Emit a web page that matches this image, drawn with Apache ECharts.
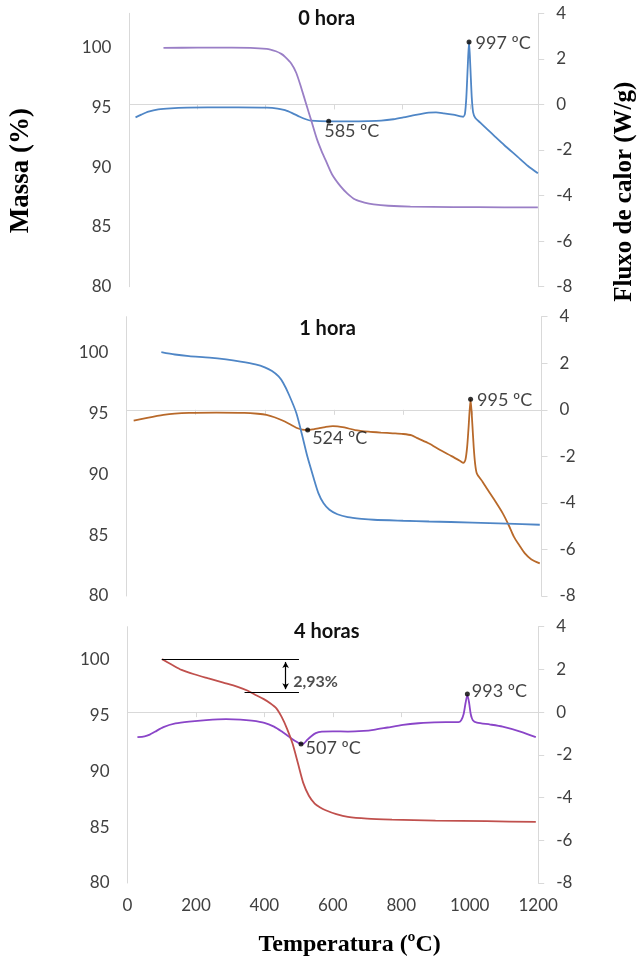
<!DOCTYPE html>
<html>
<head>
<meta charset="utf-8">
<script src="https://cdn.jsdelivr.net/npm/echarts@6/dist/echarts.min.js"></script>
<style>
html,body{margin:0;padding:0;background:#fff;}
#chart{width:639px;height:963px;}
</style>
</head>
<body>
<div id="chart"></div>
<script>
// ---- Data (temperature °C, value) ----
const panelTitles = ['0 hora', '1 hora', '4 horas'];
const xTicks = [0, 200, 400, 600, 800, 1000, 1200];

// 0 hora
const massT0 = [[100,100],[200,100.02],[300,100.02],[403,99.92],[430,99.72],[446,99.5],[457,99.25],[475,98.7],[490,97.9],[505,96.6],[520,95.2],[533,94.0],[550,92.4],[565,91.3],[576,90.6],[595,89.4],[620,88.4],[640,87.8],[663,87.3],[690,87.05],[717,86.9],[760,86.78],[825,86.7],[950,86.67],[1100,86.65],[1199,86.64]];
const heatT0 = [[18,-0.57],[35,-0.45],[56,-0.32],[85,-0.22],[121,-0.17],[170,-0.14],[229,-0.13],[320,-0.13],[403,-0.14],[435,-0.18],[457,-0.25],[478,-0.38],[500,-0.54],[518,-0.65],[533,-0.71],[587,-0.74],[650,-0.74],[700,-0.73],[739,-0.71],[775,-0.65],[804,-0.57],[840,-0.46],[879,-0.36],[900,-0.35],[923,-0.39],[950,-0.45],[972,-0.52],[980,-0.54],[985,-0.4],[989,0.3],[993,1.6],[997,2.74],[1001,1.6],[1005,0.3],[1009,-0.35],[1015,-0.58],[1030,-0.8],[1050,-1.08],[1074,-1.42],[1100,-1.78],[1139,-2.29],[1170,-2.7],[1199,-3.02]];
const peaksT0 = [[585,-0.74,'585 ºC'],[997,2.74,'997 ºC']];

// 1 hora
const massT1 = [[101,100],[140,99.8],[181,99.67],[240,99.55],[288,99.4],[330,99.22],[373,98.99],[400,98.75],[421,98.44],[440,98.0],[453,97.48],[470,96.5],[491,95.02],[507,93.3],[523,91.45],[540,89.8],[555,88.44],[570,87.6],[587,87.07],[610,86.7],[640,86.47],[680,86.33],[715,86.25],[800,86.17],[875,86.11],[1000,86.02],[1100,85.93],[1195,85.84]];
const heatT1 = [[21,-0.47],[60,-0.35],[107,-0.22],[140,-0.16],[181,-0.13],[260,-0.12],[341,-0.13],[380,-0.17],[405,-0.22],[428,-0.32],[448,-0.44],[470,-0.6],[491,-0.77],[508,-0.85],[524,-0.87],[540,-0.84],[555,-0.8],[575,-0.74],[597,-0.7],[630,-0.76],[661,-0.87],[700,-0.94],[736,-0.98],[770,-1.01],[800,-1.04],[825,-1.1],[843,-1.23],[875,-1.45],[907,-1.73],[940,-1.99],[965,-2.2],[974,-2.28],[980,-2.15],[985,-1.6],[989,-0.8],[995,0.45],[1000,-0.6],[1004,-1.6],[1008,-2.3],[1013,-2.73],[1030,-3.1],[1045,-3.45],[1065,-3.9],[1088,-4.45],[1105,-4.95],[1120,-5.45],[1137,-5.85],[1152,-6.17],[1170,-6.42],[1195,-6.6]];
const peaksT1 = [[524,-0.87,'524 ºC'],[995,0.45,'995 ºC']];

// 4 horas
const massT4 = [[101,100],[130,99.5],[158,99.04],[195,98.65],[234,98.3],[280,97.9],[320,97.55],[350,97.2],[374,96.8],[397,96.45],[417,96.06],[435,95.6],[450,94.86],[466,93.8],[482,92.48],[498,90.7],[514,88.9],[530,87.8],[547,87.1],[563,86.75],[579,86.5],[610,86.15],[644,85.9],[700,85.75],[773,85.67],[900,85.58],[1050,85.52],[1193,85.46]];
const heatT4 = [[29,-1.17],[50,-1.13],[65,-1.05],[80,-0.92],[105,-0.7],[140,-0.53],[180,-0.44],[230,-0.37],[288,-0.33],[330,-0.35],[363,-0.4],[400,-0.5],[428,-0.68],[450,-0.9],[471,-1.14],[490,-1.35],[507,-1.49],[515,-1.47],[525,-1.3],[536,-1.14],[550,-0.98],[568,-0.91],[600,-0.9],[644,-0.91],[690,-0.88],[719,-0.83],[760,-0.72],[805,-0.6],[850,-0.52],[881,-0.49],[930,-0.47],[967,-0.47],[975,-0.38],[982,-0.1],[988,0.45],[993,0.8],[998,0.45],[1003,-0.1],[1009,-0.38],[1021,-0.49],[1060,-0.58],[1096,-0.68],[1150,-0.92],[1193,-1.17]];
const peaksT4 = [[507,-1.49,'507 ºC'],[993,0.85,'993 ºC']];

// Mass-loss bracket (4 horas)
const lossStart = 100, lossEnd = 97.07, lossLabel = '2,93%';

// ---- Chart ----
const chart = echarts.init(document.getElementById('chart'), null, {renderer: 'canvas'});
const gray = '#d9d9d9';
const tickColor = '#404040';
const sans = 'Lato';
const serif = 'Liberation Serif';

const grids = [
  {left: 129.4, right: 100.8, top: 13.3, height: 273.4},
  {left: 126.4, right: 97.5, top: 316.7, height: 279.3},
  {left: 127.5, right: 100.8, top: 626.7, height: 256.3}
];

const xAxes = grids.map((g, i) => ({
  type: 'value', gridIndex: i, min: xTicks[0], max: xTicks[xTicks.length - 1], interval: xTicks[1] - xTicks[0],
  axisLine: {show: true, lineStyle: {color: gray, width: 1}},
  axisTick: {show: true, length: 5, lineStyle: {color: gray}},
  axisLabel: {show: i === 2, color: tickColor, fontFamily: sans, fontSize: 17, margin: 14,
    formatter: v => String(v)},
  splitLine: {show: false}
}));

const yAxes = [];
grids.forEach((g, i) => {
  yAxes.push({
    type: 'value', gridIndex: i, position: 'left', min: 80, max: 102.9, interval: 5,
    axisLine: {show: true, lineStyle: {color: gray}},
    axisTick: {show: false},
    axisLabel: {color: tickColor, fontFamily: sans, fontSize: 17, margin: 18, showMaxLabel: false},
    splitLine: {show: false}
  });
  yAxes.push({
    type: 'value', gridIndex: i, position: 'right', min: -8, max: 4, interval: 2,
    axisLine: {show: true, lineStyle: {color: gray}},
    axisTick: {show: true, length: 6, lineStyle: {color: gray}},
    axisLabel: {color: tickColor, fontFamily: sans, fontSize: 17, margin: 18},
    splitLine: {show: false}
  });
});

function lineSeries(data, i, axis, color) {
  return {
    type: 'line', xAxisIndex: i, yAxisIndex: i * 2 + axis, data: data,
    smooth: 0.25, showSymbol: false, symbol: 'none',
    lineStyle: {color: color, width: 1.8}, z: 2, silent: true
  };
}
function peakSeries(list, i, offsets) {
  return {
    type: 'scatter', xAxisIndex: i, yAxisIndex: i * 2 + 1,
    data: list.map((p, k) => ({
      value: [p[0], p[1]],
      label: {show: true, formatter: p[2], position: 'right', distance: 0, offset: offsets[k],
        color: '#111', fontFamily: sans, fontSize: 18}
    })),
    symbol: 'circle', symbolSize: 5, itemStyle: {color: '#000'}, z: 5, silent: true
  };
}

const series = [
  lineSeries(heatT0, 0, 1, '#4f86c6'),
  lineSeries(massT0, 0, 0, '#9a7fc6'),
  peakSeries(peaksT0, 0, [[-7, 10], [4, 1]]),

  lineSeries(heatT1, 1, 1, '#b8692a'),
  lineSeries(massT1, 1, 0, '#4f86c6'),
  peakSeries(peaksT1, 1, [[2, 8], [4, 1]]),

  lineSeries(heatT4, 2, 1, '#8a45c8'),
  Object.assign(lineSeries(massT4, 2, 0, '#c0504d'), {
    markLine: {
      silent: true, symbol: ['none', 'none'], animation: false,
      label: {show: false},
      lineStyle: {color: '#000', width: 1.2, type: 'solid'},
      data: [
        [{coord: [100, lossStart]}, {coord: [501, lossStart]}],
        [{coord: [342, lossEnd]}, {coord: [501, lossEnd]}],
        [{coord: [462, lossStart - 0.25], symbol: 'arrow', symbolSize: [5, 6]},
         {coord: [462, lossEnd + 0.25], symbol: 'arrow', symbolSize: [5, 6]}]
      ]
    }
  }),
  peakSeries(peaksT4, 2, [[2, 4], [2, -3]]),
  {
    type: 'scatter', xAxisIndex: 2, yAxisIndex: 4, symbolSize: 0, silent: true,
    data: [{value: [484, 98.0], label: {show: true, formatter: lossLabel, position: 'right', distance: 0,
      color: '#222', fontFamily: sans, fontWeight: 'bold', fontSize: 16}}]
  }
];

const titlePos = [[326.7, 18.3], [327.5, 328.3], [326.7, 631.7]];
const graphic = panelTitles.map((t, i) => ({
  type: 'text', x: titlePos[i][0], y: titlePos[i][1], silent: true,
  style: {text: t, fill: '#111', font: 'bold 20px ' + sans, textAlign: 'center', textVerticalAlign: 'middle'}
}));
graphic.push(
  {type: 'text', x: 21, y: 170.7, rotation: Math.PI / 2, silent: true,
   style: {text: 'Massa (%)', fill: '#000', font: 'bold 27px "' + serif + '"', textAlign: 'center', textVerticalAlign: 'middle'}},
  {type: 'text', x: 625, y: 191.7, rotation: Math.PI / 2, silent: true,
   style: {text: 'Fluxo de calor (W/g)', fill: '#000', font: 'bold 25px "' + serif + '"', textAlign: 'center', textVerticalAlign: 'middle'}},
  {type: 'text', x: 349.7, y: 945, silent: true,
   style: {text: 'Temperatura (ºC)', fill: '#000', font: 'bold 24px "' + serif + '"', textAlign: 'center', textVerticalAlign: 'middle'}}
);

chart.setOption({
  animation: false,
  backgroundColor: '#fff',
  grid: grids,
  xAxis: xAxes,
  yAxis: yAxes,
  series: series,
  graphic: graphic
});
</script>
</body>
</html>
